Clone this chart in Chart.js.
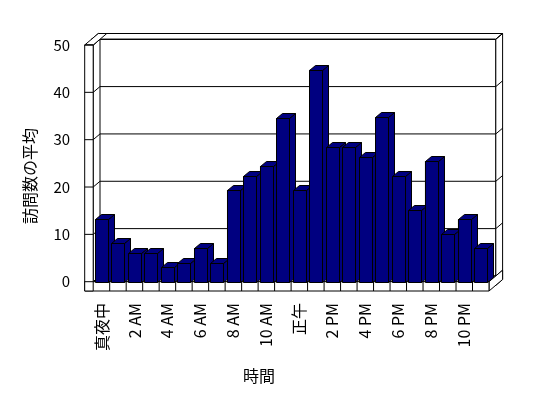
<!DOCTYPE html>
<html>
<head>
<meta charset="utf-8">
<script src="https://cdn.jsdelivr.net/npm/chart.js@4"></script>
<style>
  html, body { margin: 0; padding: 0; background: #fff; }
  #wrap { width: 548px; height: 398px; }
</style>
</head>
<body>
<div id="wrap"><canvas id="chart" width="548" height="398"></canvas></div>
<script>
// --- data ---
const HOURS = [
    '真夜中', '1 AM', '2 AM', '3 AM', '4 AM', '5 AM', '6 AM', '7 AM', '8 AM', '9 AM', '10 AM', '11 AM',
    '正午', '1 PM', '2 PM', '3 PM', '4 PM', '5 PM', '6 PM', '7 PM', '8 PM', '9 PM', '10 PM', '11 PM'
];
const VISITS = [13.2, 8.1, 6.0, 6.0, 3.1, 3.9, 7.1, 3.9, 19.4, 22.4, 24.5, 34.6,
                19.4, 44.8, 28.5, 28.5, 26.4, 34.7, 22.4, 15.1, 25.5, 10.0, 13.2, 7.1];
const Y_MIN = 0, Y_MAX = 50, Y_STEP = 10;
const Y_TITLE = '訪問数の平均';
const X_TITLE = '時間';

const FONT = '"Noto Sans CJK JP", "Noto Sans", sans-serif';
const BAR_COLOR = '#000080';

// depth offsets (px) for the fake 3D look
const DZ = { x: 6.8, y: -5.75 };     // one depth unit (plot depth / wall thickness)
const BAR_D = { x: 6, y: -5 };       // bar depth
const WALL_W = 8.5;                  // left wall thickness
const FLOOR_H = 9.3;                 // floor thickness

function poly(ctx, pts, fill) {
    ctx.beginPath();
    ctx.moveTo(pts[0][0], pts[0][1]);
    for (let i = 1; i < pts.length; i++) ctx.lineTo(pts[i][0], pts[i][1]);
    ctx.closePath();
    if (fill) { ctx.fillStyle = fill; ctx.fill(); }
    ctx.stroke();
}
function line(ctx, x1, y1, x2, y2) {
    ctx.beginPath();
    ctx.moveTo(x1, y1);
    ctx.lineTo(x2, y2);
    ctx.stroke();
}

// walls, floor, gridlines, bar depth, axis texts
const box3d = {
    id: 'box3d',
    beforeDatasetsDraw(chart) {
        const ctx = chart.ctx;
        const ca = chart.chartArea;
        const ys = chart.scales.y;
        const X1 = ca.left, XR = ca.right, X0 = X1 - WALL_W;
        const YT = ys.getPixelForValue(Y_MAX), Y0 = ca.bottom, Y1 = Y0 + FLOOR_H;
        const P = (x, y, z) => [x + DZ.x * z, y + DZ.y * z];
        const ticks = ys.ticks.map(t => ys.getPixelForValue(t.value));

        ctx.save();
        ctx.strokeStyle = '#000';
        ctx.lineWidth = 1;

        // back wall (z 1..2)
        poly(ctx, [P(X0, YT, 1), P(XR, YT, 1), P(XR, Y1, 1), P(X0, Y1, 1)], '#fff');
        poly(ctx, [P(X0, YT, 1), P(XR, YT, 1), P(XR, YT, 2), P(X0, YT, 2)], '#fff');
        poly(ctx, [P(XR, YT, 1), P(XR, YT, 2), P(XR, Y1, 2), P(XR, Y1, 1)], '#fff');
        ticks.forEach(y => {
            line(ctx, ...P(X1, y, 1), ...P(XR, y, 1));
            line(ctx, ...P(XR, y, 1), ...P(XR, y, 2));
        });

        // floor (z 0..2)
        poly(ctx, [P(X0, Y0, 0), P(XR, Y0, 0), P(XR, Y0, 1), P(X0, Y0, 1)], '#fff');
        poly(ctx, [P(XR, Y0, 0), P(XR, Y0, 2), P(XR, Y1, 2), P(XR, Y1, 0)], '#fff');
        poly(ctx, [P(X0, Y0, 0), P(XR, Y0, 0), P(XR, Y1, 0), P(X0, Y1, 0)], '#fff');
        const n = HOURS.length;
        const cw = (XR - X1) / n;
        for (let i = 1; i < n; i++) line(ctx, X1 + i * cw, Y0, X1 + i * cw, Y1);

        // left wall (z 0..2)
        poly(ctx, [P(X1, YT, 0), P(X1, YT, 1), P(X1, Y0, 1), P(X1, Y0, 0)], '#fff');
        ticks.forEach(y => line(ctx, ...P(X1, y, 0), ...P(X1, y, 1)));
        poly(ctx, [P(X0, YT, 0), P(X1, YT, 0), P(X1, YT, 2), P(X0, YT, 2)], '#fff');
        poly(ctx, [P(X0, YT, 0), P(X1, YT, 0), P(X1, Y1, 0), P(X0, Y1, 0)], '#fff');
        ticks.forEach(y => line(ctx, X0, y, X1, y));
        ctx.restore();
    },
    afterDatasetsDraw(chart) {
        const ctx = chart.ctx;
        const meta = chart.getDatasetMeta(0);
        ctx.save();
        ctx.strokeStyle = '#000';
        ctx.lineWidth = 1;
        meta.data.forEach(el => {
            const { x, y, base, width } = el.getProps(['x', 'y', 'base', 'width'], true);
            const l = Math.round(x - width / 2) + 0.5, r = Math.round(x + width / 2) + 0.5;
            const t = Math.round(y) + 0.5, b = Math.round(base) + 0.5;
            poly(ctx, [[r, t], [r + BAR_D.x, t + BAR_D.y], [r + BAR_D.x, b + BAR_D.y], [r, b]], BAR_COLOR);
            poly(ctx, [[l, t], [r, t], [r + BAR_D.x, t + BAR_D.y], [l + BAR_D.x, t + BAR_D.y]], BAR_COLOR);
            poly(ctx, [[l, t], [r, t], [r, b], [l, b]], BAR_COLOR);
        });
        ctx.restore();
    },
    afterDraw(chart) {
        const ctx = chart.ctx;
        const xs = chart.scales.x;
        ctx.save();
        ctx.fillStyle = '#000';
        ctx.font = '16px ' + FONT;
        // category labels, every other hour, rotated
        ctx.textAlign = 'right';
        ctx.textBaseline = 'middle';
        HOURS.forEach((h, i) => {
            if (i % 2) return;
            ctx.save();
            ctx.translate(xs.getPixelForValue(i), 303);
            ctx.rotate(-Math.PI / 2);
            ctx.fillText(h, 0, 0);
            ctx.restore();
        });
        // axis titles
        ctx.textAlign = 'center';
        ctx.fillText(X_TITLE, 259, 376);
        ctx.translate(30, 176);
        ctx.rotate(-Math.PI / 2);
        ctx.fillText(Y_TITLE, 0, 0);
        ctx.restore();
    }
};

new Chart(document.getElementById('chart').getContext('2d'), {
    type: 'bar',
    data: {
        labels: HOURS,
        datasets: [{
            data: VISITS,
            backgroundColor: BAR_COLOR,
            borderColor: '#000',
            borderWidth: 1,
            barPercentage: 0.79,
            categoryPercentage: 1
        }]
    },
    options: {
        responsive: false,
        animation: false,
        events: [],
        layout: { padding: { left: 10, right: 59, top: 45, bottom: 0 } },
        plugins: { legend: { display: false }, tooltip: { enabled: false } },
        scales: {
            x: {
                grid: { display: false, drawTicks: false },
                border: { display: false },
                ticks: { display: false },
                afterFit: s => { s.height = 398 - 281.7; }
            },
            y: {
                min: Y_MIN,
                max: Y_MAX,
                grid: { display: false, drawTicks: false },
                border: { display: false },
                ticks: {
                    stepSize: Y_STEP,
                    padding: 23,
                    color: '#000',
                    font: { family: FONT, size: 15 }
                },
                afterFit: s => { s.width = 93.2 - 10; }
            }
        }
    },
    plugins: [box3d]
});
</script>
</body>
</html>
